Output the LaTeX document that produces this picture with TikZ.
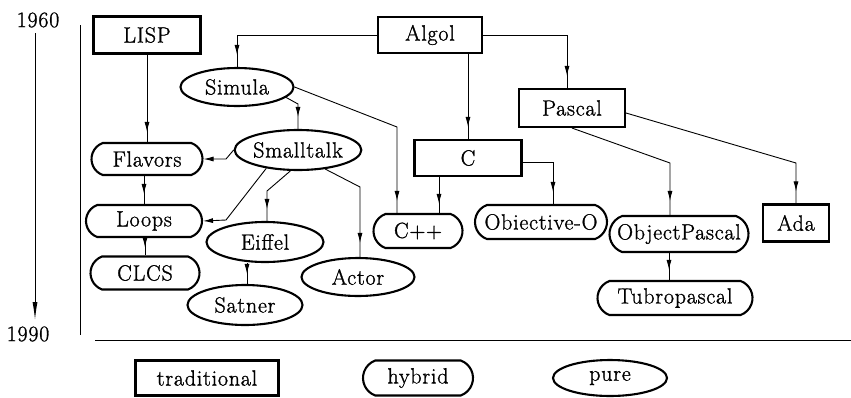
\documentclass[tikz,border=0pt]{standalone}
\usepackage{fontspec}
\setmainfont{Latin Modern Roman}[LetterSpace=3.5, FakeBold=1.2]
\usetikzlibrary{shapes.geometric,shapes.misc,arrows.meta,decorations.markings}
\begin{document}
\begin{tikzpicture}[x=1pt,y=-1pt,
  every node/.style={font=\fontsize{22}{26}\selectfont, inner sep=0pt},
  trad/.style={draw, rectangle, line width=2.1pt},
  hyb/.style={draw, rounded rectangle, rounded rectangle arc length=140, line width=2.1pt},
  pur/.style={draw, ellipse, line width=2.1pt},
  conn/.style={line width=0.9pt},
  tipat/.style={conn, postaction={decorate}, decoration={markings, mark=at position #1 with {\arrow{Latex[length=10pt,width=5pt]}}}},
  tipend/.style={conn, -{Latex[length=10pt,width=5pt]}}
]
\useasboundingbox (0,0) rectangle (851,397);

% time axis
\node (t1960) at (38,20) {1960};
\node (t1990) at (28,334) {1990};
\coordinate (axtop) at (35,33);
\coordinate (axbot) at (35,320);
\draw[line width=0.9pt, -{Latex[length=18pt,width=5pt]}] (axtop) -- (axbot);
\coordinate (vtop) at (80,25);
\coordinate (vbot) at (80,335);
\draw[line width=0.9pt] (vtop) -- (vbot);
\coordinate (hl) at (95,340);
\coordinate (hr) at (851,340);
\draw[line width=0.9pt] (hl) -- (hr);

% nodes
\node[trad, minimum width=107pt, minimum height=37pt] (lisp) at (147,35) {LISP};
\node[trad, minimum width=104pt, minimum height=36pt] (algol) at (430,35) {Algol};
\node[pur, minimum width=113pt, minimum height=38pt] (simula) at (237,87) {Simula};
\node[trad, minimum width=106pt, minimum height=38pt] (pascal) at (572,108) {Pascal};
\node[pur, minimum width=115pt, minimum height=40pt] (smalltalk) at (298,150) {Smalltalk};
\node[hyb, minimum width=111pt, minimum height=32pt] (flavors) at (147,159) {Flavors};
\node[trad, minimum width=107pt, minimum height=36pt] (c) at (468,158) {C};
\node[hyb, minimum width=116pt, minimum height=32pt] (loops) at (144,221) {Loops};
\node[hyb, minimum width=109pt, minimum height=33pt] (clcs) at (145,273) {CLCS};
\node[pur, minimum width=117pt, minimum height=40pt] (eiffel) at (265,242) {Eiffel};
\node[pur, minimum width=115pt, minimum height=40pt] (satner) at (245,305) {Satner};
\node[pur, minimum width=113pt, minimum height=38pt] (actor) at (358,277) {Actor};
\node[hyb, minimum width=89pt, minimum height=34pt] (cpp) at (418,231) {C++};
\node[hyb, minimum width=132pt, minimum height=34pt] (objc) at (541,222) {Obiective-O};
\node[hyb, minimum width=139pt, minimum height=36pt] (objpas) at (679,234) {ObjectPascal};
\node[trad, minimum width=66pt, minimum height=37pt] (ada) at (796,223) {Ada};
\node[hyb, minimum width=155pt, minimum height=34pt] (turbo) at (675,298) {Tubropascal};

% legend
\node[trad, minimum width=143pt, minimum height=35pt] (ltrad) at (207,378) {traditional};
\node[hyb, minimum width=110pt, minimum height=35pt] (lhyb) at (418,378) {hybrid};
\node[pur, minimum width=114pt, minimum height=36pt] (lpure) at (610,378) {pure};

% connectors
\draw[tipat=-10pt] (lisp.south) -- (flavors.north);
\draw[tipat=-10pt] (flavors.south -| loops.north) -- (loops.north);
\draw[tipat=-8pt] (loops.south -| clcs.north) -- (clcs.north);
\draw[tipat=-12pt] (algol.west) -| (simula.north);
\draw[tipat=-12pt] (algol.south -| c.north) -- (c.north);
\draw[tipat=-12pt] (algol.east) -| ([xshift=-5pt]pascal.north);
\draw[tipat=-12pt] (simula.-12) -- (298,104) -- (smalltalk.north);
\draw[tipat=-12pt] (simula.east) -- (397,127) -- ([xshift=-21pt]cpp.north);
\draw[tipat=-9pt] ([xshift=21pt]cpp.north |- c.south) -- ([xshift=21pt]cpp.north);
\draw[tipat=-12pt] ([yshift=-4pt]c.east) -| ([xshift=12pt]objc.north);
\draw[tipend] (smalltalk.west) -- (226,159) -- (flavors.east);
\draw[tipend] (smalltalk.-150) -- (226,220) -- (loops.east);
\draw[tipat=-12pt] (smalltalk.-110) -- (267,191) -- ([xshift=2pt]eiffel.north);
\draw[tipat=-14pt] (smalltalk.-35) -- (360,187) -- ([xshift=2pt]actor.north);
\draw[tipat=-10pt] ([xshift=2pt]satner.north |- eiffel.south) -- ([xshift=2pt]satner.north);
\draw[tipat=-14pt] (pascal.south) -- (670,163) -- ([xshift=-9pt]objpas.north);
\draw[tipat=-12pt] ([yshift=-5pt]pascal.east) -- (796,163) -- (ada.north);
\draw[tipat=-10pt] ([xshift=-10pt]objpas.south) -- ([xshift=-10pt]objpas.south |- turbo.north);
\end{tikzpicture}
\end{document}
